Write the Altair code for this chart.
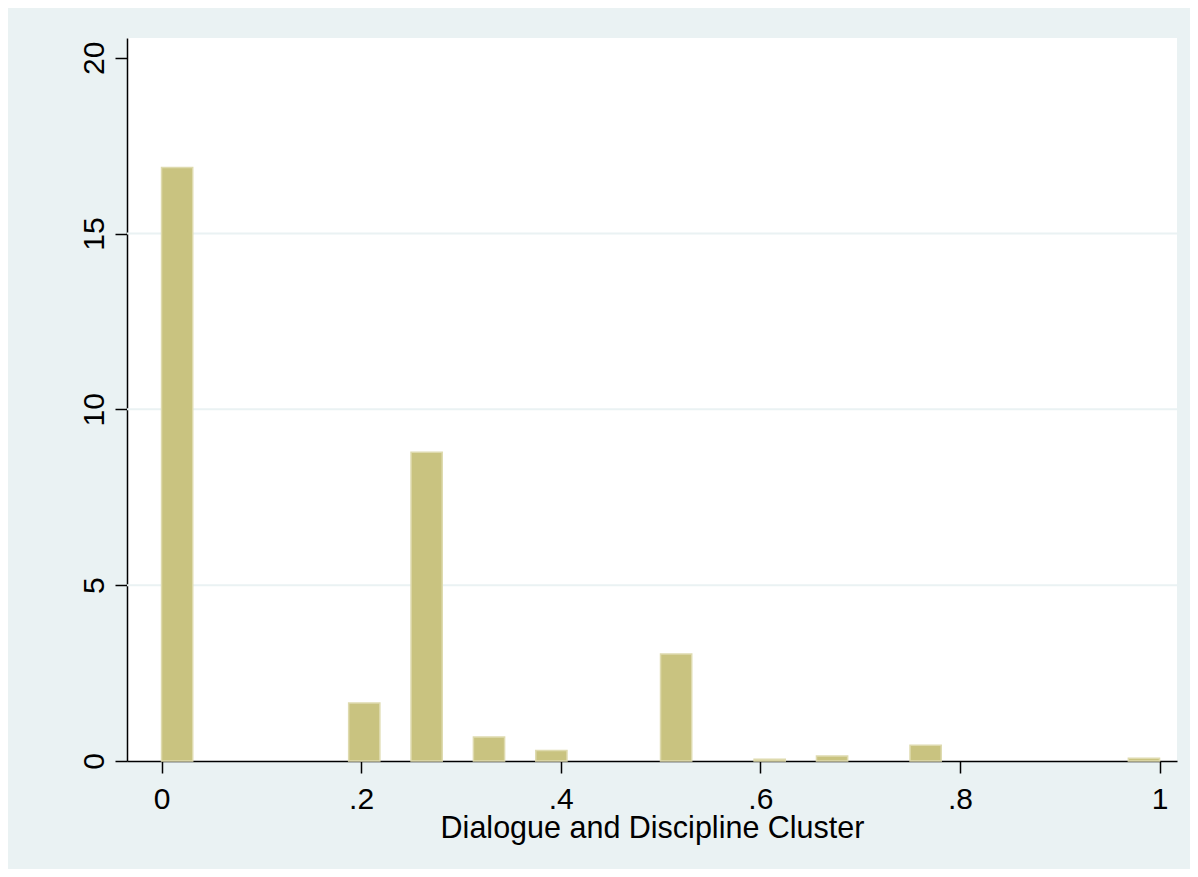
import altair as alt
import pandas as pd

# Histogram bins (bin width = 1/32) and densities
bin_start = [0.0, 0.1875, 0.25, 0.3125, 0.375, 0.5, 0.59375, 0.65625, 0.75, 0.96875]
bin_width = 0.03125
density = [16.88, 1.65, 8.78, 0.68, 0.30, 3.04, 0.05, 0.14, 0.45, 0.08]
x_ticks = [0, 0.2, 0.4, 0.6, 0.8, 1]
y_ticks = [0, 5, 10, 15, 20]
grid_values = [5, 10, 15]
x_title = "Dialogue and Discipline Cluster"

bars = pd.DataFrame({
    "x0": bin_start,
    "x1": [b + bin_width for b in bin_start],
    "d": density,
})
grid = pd.DataFrame({"g": grid_values})

FONT = "Liberation Sans"
BG = "#EAF2F3"

xscale = alt.Scale(domain=[-0.0346, 1.0175], nice=False, zero=False)
yscale = alt.Scale(domain=[0, 20.56], nice=False)

y_axis = alt.Axis(
    values=y_ticks, title=None, grid=False,
    labelAngle=270, labelFont=FONT, labelFontSize=30, labelColor="#000",
    labelPadding=6, tickSize=12, tickColor="#000", tickWidth=1.5,
    domainColor="#000", domainWidth=1.5,
)

gridlines = alt.Chart(grid).mark_rule(color=BG, strokeWidth=2).encode(
    y=alt.Y("g:Q", scale=yscale, axis=y_axis)
)

hist = alt.Chart(bars).mark_rect(
    color="#C9C380", stroke="#DEDAAE", strokeWidth=1.5
).encode(
    x=alt.X(
        "x0:Q", scale=xscale,
        axis=alt.Axis(
            values=x_ticks, title=x_title, grid=False,
            labelExpr="datum.value == 0 ? '0' : datum.value == 1 ? '1' : replace(format(datum.value, '.1f'), '0.', '.')",
            labelFont=FONT, labelFontSize=30, labelColor="#000",
            labelPadding=11, tickSize=12, tickColor="#000", tickWidth=1.5,
            domainColor="#000", domainWidth=1.5,
            titleFont=FONT, titleFontSize=30.5, titleFontWeight="normal", titleColor="#000",
            titleY=76, titleBaseline="alphabetic",
        ),
    ),
    x2="x1:Q",
    y=alt.Y("d:Q", scale=yscale, axis=y_axis),
    y2=alt.datum(0),
)

chart = alt.layer(gridlines, hist).properties(
    width=1050, height=723,
    background=BG,
    padding={"left": 119, "top": 30, "right": 13, "bottom": 108},
    autosize=alt.AutoSizeParams(type="none"),
).configure_view(fill="white", stroke=None)

chart.save("out.html", embed_options={"renderer": "svg", "actions": False})
